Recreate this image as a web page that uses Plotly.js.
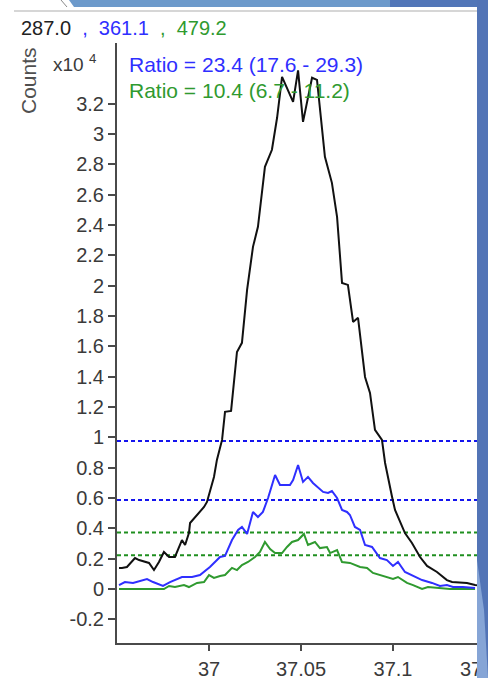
<!DOCTYPE html>
<html>
<head>
<meta charset="utf-8">
<script src="https://cdn.plot.ly/plotly-3.0.1.min.js"></script>
<style>
  html, body { margin: 0; padding: 0; background: #ffffff; }
  #chart { width: 488px; height: 678px; }
</style>
</head>
<body>
<div id="chart"></div>
<script>
// Extracted ion chromatograms (retention time in min, counts in units of 10^4)
const blackTime = [36.9511, 36.9527, 36.9554, 36.9598, 36.9620, 36.9674, 36.9701, 36.9728, 36.9755, 36.9783,
  36.9815, 36.9837, 36.9853, 36.9870, 36.9891, 36.9897, 36.9924, 36.9973, 36.9989, 37.0005,
  37.0027, 37.0043, 37.0071, 37.0087, 37.0120, 37.0152, 37.0179, 37.0207, 37.0239, 37.0266,
  37.0304, 37.0342, 37.0370, 37.0397, 37.0457, 37.0484, 37.0511, 37.0560, 37.0587, 37.0630,
  37.0668, 37.0696, 37.0723, 37.0755, 37.0783, 37.0810, 37.0848, 37.0875, 37.0902, 37.0940,
  37.0957, 37.0995, 37.1011, 37.1065, 37.1103, 37.1147, 37.1185, 37.1239, 37.1293, 37.1321,
  37.1402, 37.1446, 37.1460];
const blackCounts = [0.139, 0.139, 0.145, 0.204, 0.191, 0.172, 0.125, 0.178, 0.244, 0.211,
  0.211, 0.270, 0.323, 0.290, 0.369, 0.435, 0.475, 0.541, 0.574, 0.640,
  0.739, 0.851, 0.983, 1.168, 1.174, 1.563, 1.623, 1.972, 2.256, 2.388,
  2.784, 2.896, 3.107, 3.377, 3.212, 3.420, 3.080, 3.371, 3.357, 2.850,
  2.678, 2.454, 2.018, 2.005, 1.761, 1.788, 1.398, 1.293, 1.049, 0.983,
  0.831, 0.607, 0.521, 0.369, 0.303, 0.211, 0.152, 0.112, 0.059, 0.046,
  0.040, 0.026, 0.024];

const blueTime = [36.9511, 36.9543, 36.9587, 36.9663, 36.9696, 36.9750, 36.9788, 36.9853, 36.9908, 36.9951,
  37.0005, 37.0043, 37.0060, 37.0087, 37.0109, 37.0125, 37.0158, 37.0179, 37.0207, 37.0239,
  37.0266, 37.0293, 37.0321, 37.0359, 37.0386, 37.0440, 37.0457, 37.0484, 37.0511, 37.0538,
  37.0565, 37.0592, 37.0620, 37.0647, 37.0668, 37.0696, 37.0723, 37.0750, 37.0766, 37.0793,
  37.0821, 37.0848, 37.0886, 37.0929, 37.0967, 37.1000, 37.1027, 37.1065, 37.1103, 37.1158,
  37.1212, 37.1255, 37.1293, 37.1326, 37.1380, 37.1446];
const blueCounts = [0.026, 0.046, 0.040, 0.066, 0.046, 0.020, 0.046, 0.079, 0.079, 0.092,
  0.145, 0.191, 0.211, 0.218, 0.277, 0.323, 0.389, 0.409, 0.363, 0.508,
  0.475, 0.508, 0.600, 0.752, 0.686, 0.686, 0.719, 0.818, 0.706, 0.739,
  0.699, 0.673, 0.640, 0.633, 0.646, 0.600, 0.521, 0.508, 0.488, 0.409,
  0.389, 0.290, 0.277, 0.204, 0.191, 0.152, 0.178, 0.112, 0.092, 0.059,
  0.040, 0.020, 0.026, 0.013, 0.013, 0.007];

const greenTime = [36.9511, 36.9755, 36.9783, 36.9815, 36.9864, 36.9891, 36.9935, 36.9973, 37.0000, 37.0027,
  37.0060, 37.0087, 37.0125, 37.0152, 37.0179, 37.0212, 37.0250, 37.0277, 37.0304, 37.0332,
  37.0359, 37.0397, 37.0424, 37.0451, 37.0484, 37.0516, 37.0538, 37.0576, 37.0603, 37.0641,
  37.0658, 37.0696, 37.0723, 37.0766, 37.0821, 37.0859, 37.0891, 37.0929, 37.0967, 37.1000,
  37.1027, 37.1076, 37.1109, 37.1158, 37.1190, 37.1239, 37.1310, 37.1446];
const greenCounts = [0.000, 0.000, 0.020, 0.013, 0.026, 0.013, 0.040, 0.046, 0.092, 0.073,
  0.086, 0.092, 0.139, 0.125, 0.158, 0.178, 0.211, 0.244, 0.310, 0.264,
  0.237, 0.237, 0.277, 0.310, 0.323, 0.363, 0.290, 0.310, 0.270, 0.277,
  0.237, 0.257, 0.178, 0.172, 0.145, 0.139, 0.106, 0.092, 0.079, 0.066,
  0.079, 0.040, 0.026, 0.000, 0.013, 0.007, 0.000, 0.000];

// Extracted masses shown in the header
const ionMasses = ['287.0', '361.1', '479.2'];

// Qualifier ion ratios (%) with their acceptance windows
const ratioValues = [23.4, 10.4];
const ratioLow = [17.6, 6.7];
const ratioHigh = [29.3, 11.2];
// Reference height of the quantifier peak (×10^4) used to place the windows
const referenceHeight = 3.33;

// Axis ticks
const xTicks = [37, 37.05, 37.1, 37.15];
const yTicks = [-0.2, 0, 0.2, 0.4, 0.6, 0.8, 1, 1.2, 1.4, 1.6, 1.8, 2, 2.2, 2.4, 2.6, 2.8, 3, 3.2];

// ---- layout geometry (pixels) ----
const W = 488, H = 678;
const M = { l: 117, r: 0, t: 43, b: 35 };
const plotW = W - M.l - M.r, plotH = H - M.t - M.b;
const px = x => (x - M.l) / plotW;      // pixel x -> paper x
const py = y => (H - M.b - y) / plotH;  // pixel y -> paper y

const FONT = 'Liberation Sans, Arial, sans-serif';
const AXIS = '#4a4a4a';
const TICKTXT = '#3a3a3a';
const BLUE = '#2f2fff';
const GREEN = '#2f9a2f';
const qualColors = [BLUE, GREEN];
const limitColors = ['#1414ee', '#1f8f1f'];

const fmt = v => String(Math.round(v * 100) / 100);

const traces = [
  { x: greenTime, y: greenCounts, mode: 'lines', line: { color: GREEN, width: 2 }, hoverinfo: 'skip' },
  { x: blueTime, y: blueCounts, mode: 'lines', line: { color: BLUE, width: 2 }, hoverinfo: 'skip' },
  { x: blackTime, y: blackCounts, mode: 'lines', line: { color: '#111111', width: 2 }, hoverinfo: 'skip' }
];

// Ratio acceptance window lines
const shapes = [];
ratioLow.forEach((lo, i) => {
  [ratioHigh[i], lo].forEach(r => {
    const level = referenceHeight * r / 100;
    shapes.push({ type: 'line', xref: 'paper', yref: 'y', x0: 0, x1: 1, y0: level, y1: level,
      line: { color: limitColors[i], width: 2, dash: '4px,3px' }, layer: 'below' });
  });
});

// Window frame decoration
const toPath = pts => 'M ' + pts.map(p => px(p[0]) + ' ' + py(p[1])).join(' L ') + ' Z';
shapes.push(
  { type: 'path', xref: 'paper', yref: 'paper', path: toPath([[69, 0], [390, 0], [390, 7], [74, 7]]),
    fillcolor: '#6d9acb', line: { width: 0 }, layer: 'above' },
  { type: 'path', xref: 'paper', yref: 'paper', path: toPath([[390, 0], [488, 0], [488, 7], [390, 7]]),
    fillcolor: '#5276b8', line: { width: 0 }, layer: 'above' },
  { type: 'line', xref: 'paper', yref: 'paper', x0: px(61), y0: py(0), x1: px(67), y1: py(7),
    line: { color: '#8a8a8a', width: 1 }, layer: 'above' },
  { type: 'line', xref: 'paper', yref: 'paper', x0: px(14), y0: py(11), x1: px(477), y1: py(11),
    line: { color: '#d6d6d6', width: 2 }, layer: 'above' },
  { type: 'path', xref: 'paper', yref: 'paper', path: toPath([[477, 0], [488, 0], [488, 678], [477, 678]]),
    fillcolor: '#5274b6', line: { width: 0 }, layer: 'above' },
  { type: 'path', xref: 'paper', yref: 'paper', path: toPath([[477, 560], [484, 610], [488, 678], [477, 678]]),
    fillcolor: '#86a5d6', line: { width: 0 }, layer: 'above' }
);

const annotations = [
  { xref: 'paper', yref: 'paper', x: px(19), y: py(28), xanchor: 'left', yanchor: 'middle', showarrow: false,
    font: { family: FONT, size: 20, color: '#222222' },
    text: '<span style="color:#222222">' + ionMasses[0] + '</span>' +
          '<span style="color:' + BLUE + '">\u00A0 ,\u00A0\u00A0' + ionMasses[1] + '</span>' +
          '<span style="color:' + GREEN + '">\u00A0 ,\u00A0\u00A0' + ionMasses[2] + '</span>' },
  { xref: 'paper', yref: 'paper', x: px(28), y: py(81), xanchor: 'center', yanchor: 'middle', showarrow: false,
    textangle: -90, font: { family: FONT, size: 21, color: '#505050' }, text: 'Counts' },
  { xref: 'paper', yref: 'paper', x: px(51), y: py(63), xanchor: 'left', yanchor: 'middle', showarrow: false,
    font: { family: FONT, size: 19, color: TICKTXT }, text: 'x10 <sup>4</sup>' }
];
ratioValues.forEach((r, i) => {
  annotations.push({ xref: 'paper', yref: 'paper', x: px(127), y: py(65 + 25 * i), xanchor: 'left', yanchor: 'middle',
    showarrow: false, font: { family: FONT, size: 21, color: qualColors[i] },
    text: 'Ratio = ' + r.toFixed(1) + ' (' + ratioLow[i].toFixed(1) + ' - ' + ratioHigh[i].toFixed(1) + ')' });
});

const layout = {
  width: W, height: H,
  margin: M,
  paper_bgcolor: '#ffffff', plot_bgcolor: '#ffffff',
  showlegend: false,
  xaxis: {
    range: [36.95, 36.95 + (W - M.l - M.r) * 0.05 / 92],
    tickvals: xTicks, ticktext: xTicks.map(fmt),
    showgrid: false, zeroline: false,
    showline: true, linecolor: AXIS, linewidth: 2,
    ticks: 'outside', ticklen: 6, tickwidth: 2, tickcolor: AXIS,
    ticklabelstandoff: 1, ticklabeloverflow: 'allow',
    tickfont: { family: FONT, size: 20, color: TICKTXT }
  },
  yaxis: {
    range: [-0.356, 3.6],
    tickvals: yTicks, ticktext: yTicks.map(fmt),
    showgrid: false, zeroline: false,
    showline: true, linecolor: AXIS, linewidth: 2,
    ticks: 'outside', ticklen: 7, tickwidth: 2, tickcolor: AXIS,
    tickfont: { family: FONT, size: 20, color: TICKTXT }
  },
  shapes: shapes,
  annotations: annotations
};

Plotly.newPlot('chart', traces, layout, { displayModeBar: false, staticPlot: true });
</script>
</body>
</html>
